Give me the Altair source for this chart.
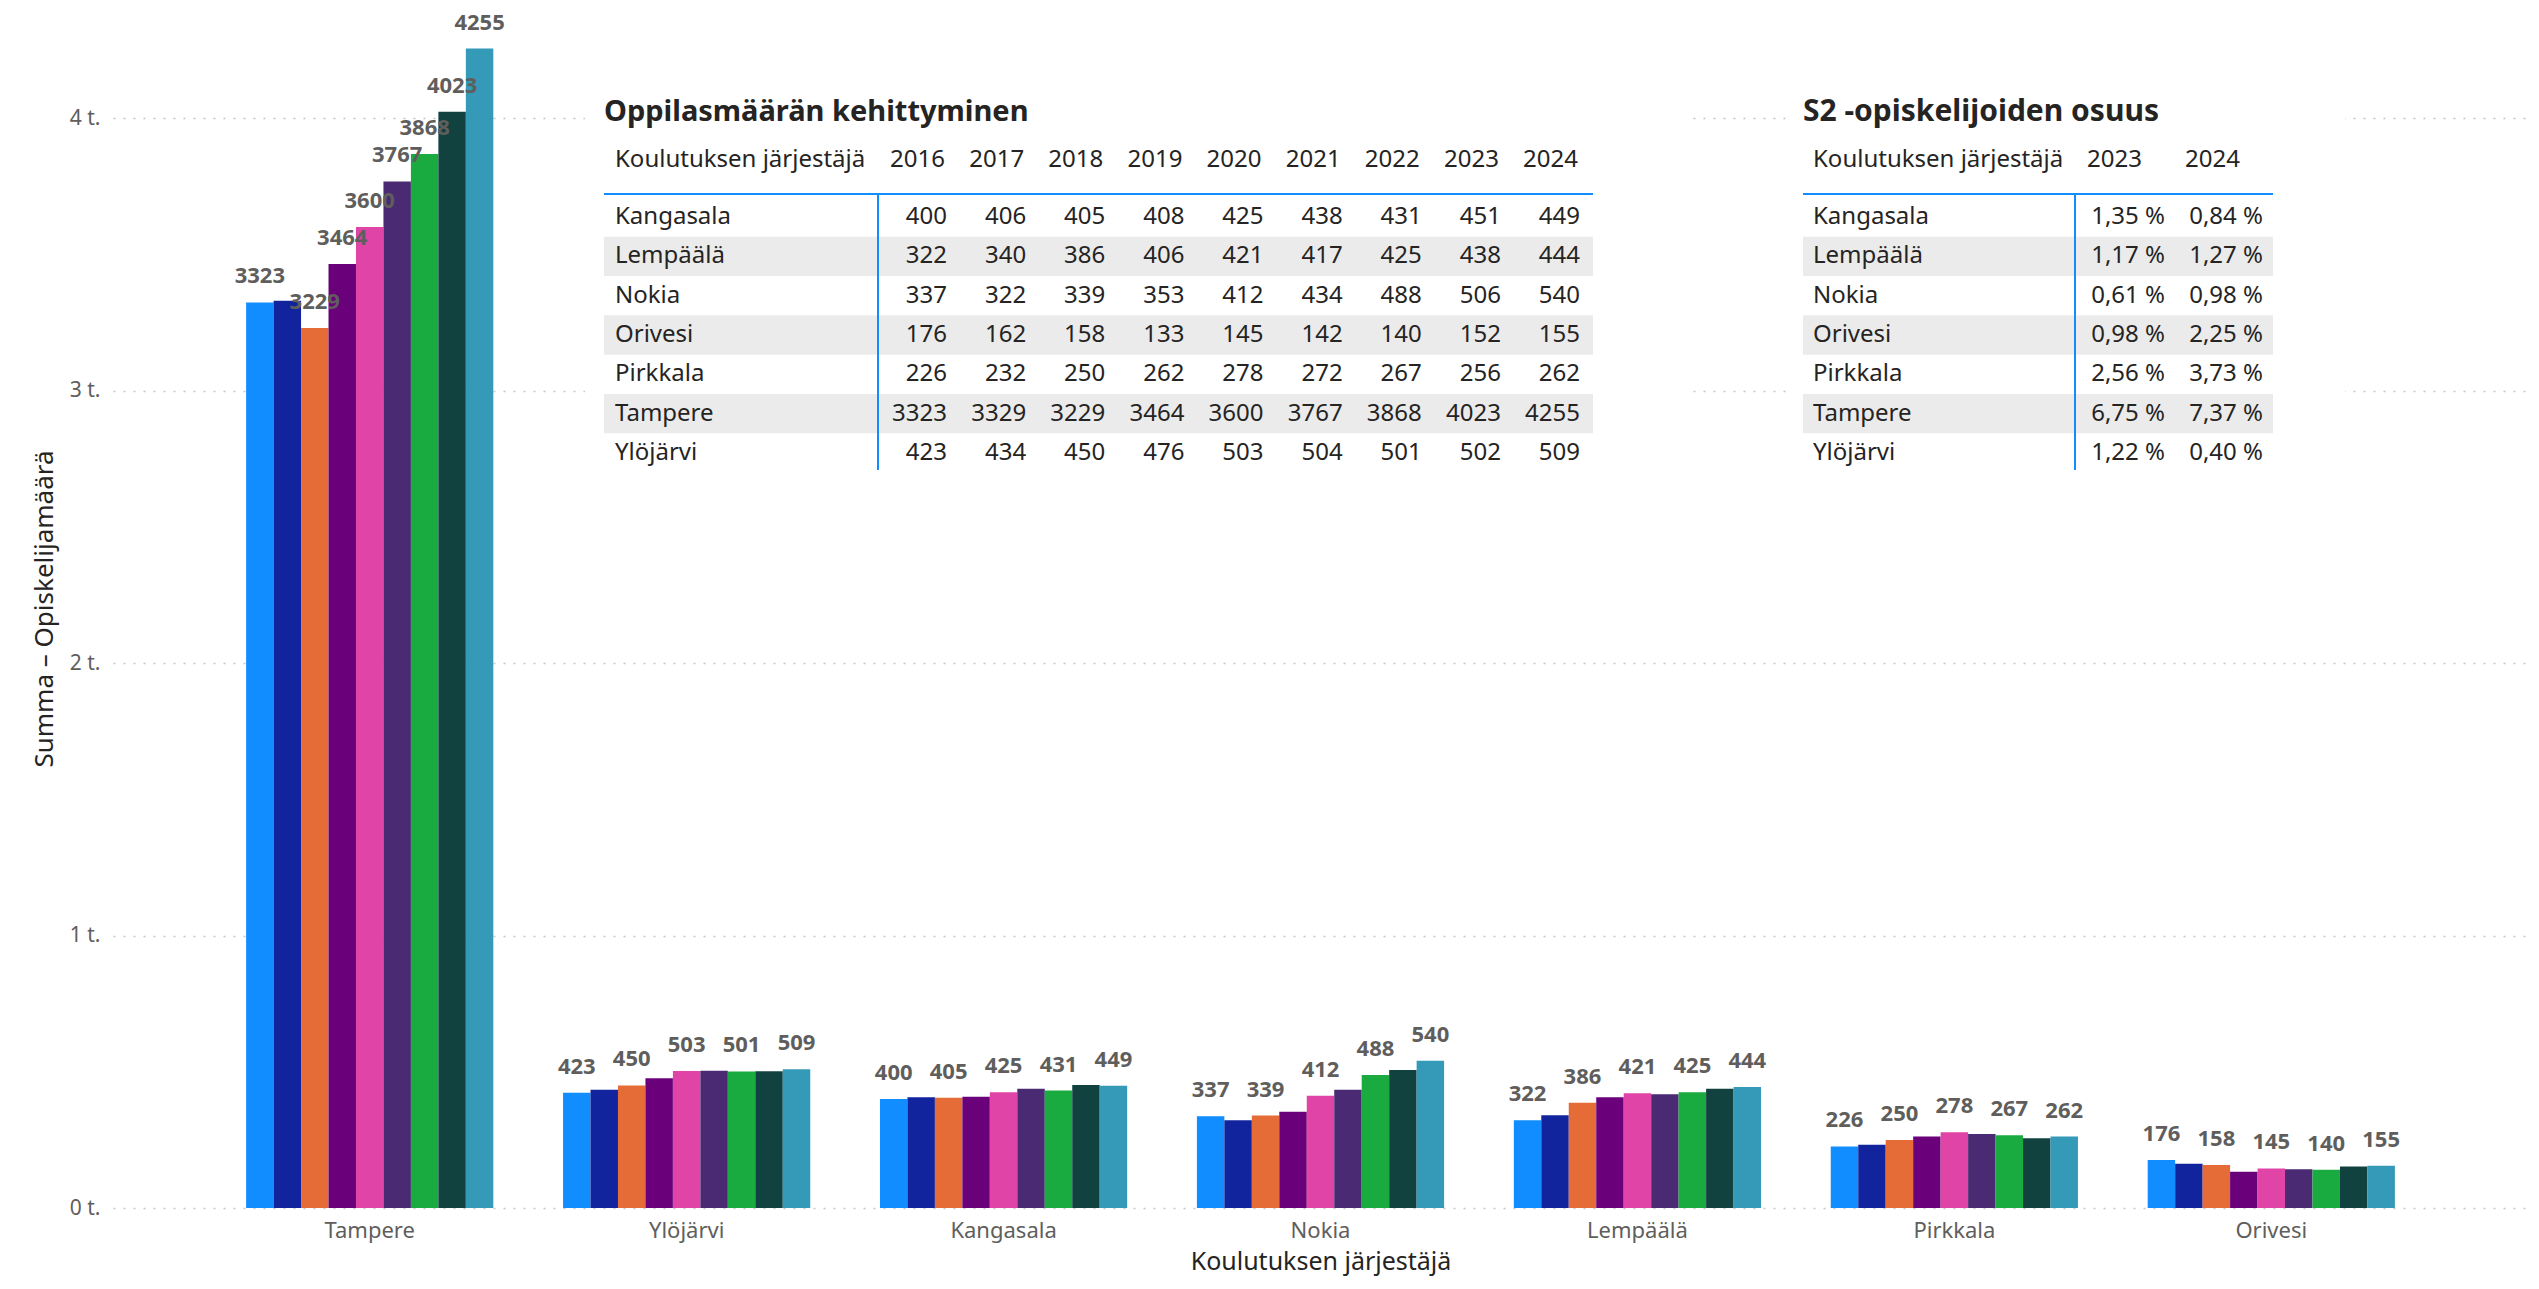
import altair as alt
import pandas as pd

# ---------------- data ----------------
providers = ["Kangasala", "Lempäälä", "Nokia", "Orivesi", "Pirkkala", "Tampere", "Ylöjärvi"]
years = ["2016", "2017", "2018", "2019", "2020", "2021", "2022", "2023", "2024"]
kangasala = [400, 406, 405, 408, 425, 438, 431, 451, 449]
lempaala = [322, 340, 386, 406, 421, 417, 425, 438, 444]
nokia = [337, 322, 339, 353, 412, 434, 488, 506, 540]
orivesi = [176, 162, 158, 133, 145, 142, 140, 152, 155]
pirkkala = [226, 232, 250, 262, 278, 272, 267, 256, 262]
tampere = [3323, 3329, 3229, 3464, 3600, 3767, 3868, 4023, 4255]
ylojarvi = [423, 434, 450, 476, 503, 504, 501, 502, 509]

s2_years = ["2023", "2024"]
s2_2023 = [1.35, 1.17, 0.61, 0.98, 2.56, 6.75, 1.22]
s2_2024 = [0.84, 1.27, 0.98, 2.25, 3.73, 7.37, 0.40]

bar_order = ["Tampere", "Ylöjärvi", "Kangasala", "Nokia", "Lempäälä", "Pirkkala", "Orivesi"]
labelled_years = ["2016", "2018", "2020", "2022", "2024"]
labelled_years_tampere = ["2016", "2018", "2019", "2020", "2021", "2022", "2023", "2024"]
striped_rows = ["Lempäälä", "Orivesi", "Tampere"]

colors = ["#118DFF", "#12239E", "#E66C37", "#6B007B", "#E044A7",
          "#4A2A73", "#1AAB40", "#124240", "#3599B8"]

series = [kangasala, lempaala, nokia, orivesi, pirkkala, tampere, ylojarvi]

# ---------------- tables built from the arrays ----------------
rows = []
for p, vals in zip(providers, series):
    shown = labelled_years_tampere if p == "Tampere" else labelled_years
    for y, v in zip(years, vals):
        rows.append({"provider": p, "year": y, "value": v, "label": str(v), "show": y in shown})
df = pd.DataFrame(rows)

s2_rows = []
for p, a, b in zip(providers, s2_2023, s2_2024):
    for y, v in zip(s2_years, [a, b]):
        s2_rows.append({"provider": p, "year": y, "label": f"{v:.2f}".replace(".", ",") + " %"})
s2_df = pd.DataFrame(s2_rows)

prov_df = pd.DataFrame({"provider": providers})
stripe_df = pd.DataFrame({"provider": striped_rows})
years_df = pd.DataFrame({"year": years})
s2_years_df = pd.DataFrame({"year": s2_years})
one = pd.DataFrame({"k": [0]})

FONT = "Noto Sans"
DARK = "#252423"
GREY = "#605E5C"
BLUE = "#118DFF"
STRIPE = "#EBEBEB"

# ---------------- bar chart ----------------
base = alt.Chart(df).encode(
    x=alt.X("provider:N", scale=alt.Scale(domain=bar_order, paddingInner=0.22, paddingOuter=0.42, align=0.5),
            axis=alt.Axis(title="Koulutuksen järjestäjä", labelAngle=0, domain=False, ticks=False, tickSize=0,
                          grid=False, labelPadding=12, titlePadding=8, labelFontSize=22, labelColor=GREY,
                          titleFontSize=25, titleColor=DARK, titleFontWeight="normal",
                          labelFont=FONT, titleFont=FONT)),
    xOffset=alt.XOffset("year:N", scale=alt.Scale(domain=years, paddingInner=0, paddingOuter=0)),
    y=alt.Y("value:Q", scale=alt.Scale(domain=[0, 4400], nice=False),
            axis=alt.Axis(title="Summa – Opiskelijamäärä", values=[0, 1000, 2000, 3000, 4000],
                          labelExpr="datum.value / 1000 + ' t.'", domain=False, ticks=False, tickSize=0,
                          grid=True, gridDash=[2, 8], gridColor="#C8C6C4", gridWidth=1.5,
                          labelPadding=13, titlePadding=12, labelFontSize=21, labelColor=GREY,
                          titleFontSize=26, titleColor=DARK, titleFontWeight="normal",
                          labelFont=FONT, titleFont=FONT)),
)
bars = base.mark_bar().encode(
    color=alt.Color("year:N", scale=alt.Scale(domain=years, range=colors), legend=None)
)
labels = base.transform_filter("datum.show").mark_text(
    baseline="middle", dy=-26, fontWeight="bold", fontSize=22, color=GREY, font=FONT
).encode(text="label:N")
bar_group = alt.layer(bars, labels)

# ---------------- shared table helpers ----------------
row_y = alt.Y("provider:N", scale=alt.Scale(domain=providers, range=[188.35, 463.65],
                                            paddingInner=0, paddingOuter=0), axis=None)


def txt(**kw):
    d = dict(font=FONT, color=DARK, fontSize=24, baseline="middle")
    d.update(kw)
    return d


def table(title, box, line_x, vline_x, name_x, year_x, head_dx, head_df, cell_df, title_size):
    box_l = alt.Chart(one).mark_rect(color="white").encode(
        x=alt.value(box[0]), x2=alt.value(box[1]), y=alt.value(51), y2=alt.value(471))
    stripes = alt.Chart(stripe_df).mark_rect(color=STRIPE).encode(
        y=row_y, x=alt.value(line_x[0]), x2=alt.value(line_x[1]))
    hrule = alt.Chart(one).mark_rule(color=BLUE, strokeWidth=2).encode(
        x=alt.value(line_x[0]), x2=alt.value(line_x[1]), y=alt.value(185))
    vrule = alt.Chart(one).mark_rule(color=BLUE, strokeWidth=2).encode(
        x=alt.value(vline_x), y=alt.value(185), y2=alt.value(461))
    ttl = alt.Chart(one).mark_text(**txt(text=title, align="left", fontSize=title_size, fontWeight="bold")).encode(
        x=alt.value(line_x[0]), y=alt.value(103))
    head_name = alt.Chart(one).mark_text(**txt(text="Koulutuksen järjestäjä", align="left")).encode(
        x=alt.value(name_x), y=alt.value(151))
    head_years = alt.Chart(head_df).mark_text(**txt(align="right", dx=head_dx)).encode(
        x=year_x, y=alt.value(151), text="year:N")
    names = alt.Chart(prov_df).mark_text(**txt(align="left")).encode(
        x=alt.value(name_x), y=row_y, text="provider:N")
    cells = alt.Chart(cell_df).mark_text(**txt(align="right")).encode(
        x=year_x, y=row_y, text="label:N")
    return alt.layer(box_l, stripes, hrule, vrule, ttl, head_name, head_years, names, cells)


year_x1 = alt.X("year:N", scale=alt.Scale(domain=years, type="point", range=[834, 1467], padding=0), axis=None)
t1 = table("Oppilasmäärän kehittyminen", (472, 1575), (491, 1480), 765, 502, year_x1, -2, years_df, df, 29)

year_x2 = alt.X("year:N", scale=alt.Scale(domain=s2_years, type="point", range=[2052, 2150], padding=0), axis=None)
t2 = table("S2 -opiskelijoiden osuus", (1677, 2232), (1690, 2160), 1962, 1700, year_x2, -23, s2_years_df, s2_df, 30)

chart = alt.layer(bar_group, t1, t2).resolve_scale(
    x="independent", y="independent"
).properties(
    width=2415, height=1199,
    padding={"left": 105, "top": 1, "right": 2, "bottom": 70},
    autosize=alt.AutoSizeParams(type="none"),
).configure_view(strokeWidth=0)

chart.save("out.html", embed_options={"renderer": "svg", "actions": False})
